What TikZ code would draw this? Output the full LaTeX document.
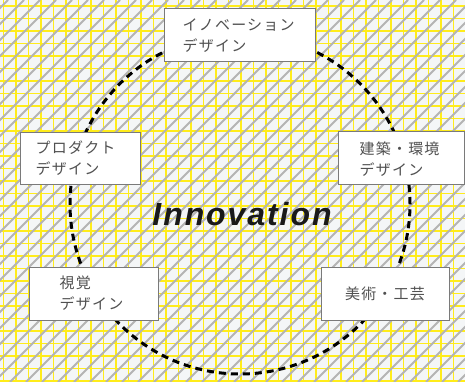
\documentclass[tikz,border=0pt]{standalone}
\usepackage{fontspec}
\setmainfont{Liberation Sans}
\newfontfamily\jp[LetterSpace=8]{Noto Sans CJK JP}
\newfontfamily\inno[LetterSpace=6]{Liberation Sans}
\usetikzlibrary{calc}
\definecolor{bgc}{HTML}{F4F6F7}
\definecolor{yel}{HTML}{FFEC1A}
\definecolor{diag}{HTML}{B4B4B4}
\definecolor{boxline}{HTML}{7A7A7A}
\definecolor{txt}{HTML}{505050}
\tikzset{
  gridline/.style={draw=yel, line width=1.3pt},
  diagline/.style={draw=diag, line width=1.9pt},
  ring/.style={draw=black, line width=3pt, dash pattern=on 7pt off 5pt},
  box/.style={draw=boxline, fill=white, line width=1pt, rectangle, inner sep=0pt},
  lbl/.style={text=txt, font=\jp\fontsize{15}{21}\selectfont, align=left, inner sep=0pt},
}
\begin{document}
\begin{tikzpicture}[x=1pt,y=-1pt]
\useasboundingbox (0,0) rectangle (465,382);
\begin{scope}
\clip (0,0) rectangle (465,382);
\fill[bgc] (0,0) rectangle (465,382);
\foreach \x in {3.5,16,...,465} \draw[gridline] (\x,0) -- (\x,382);
\foreach \y in {6,18.5,...,382} \draw[gridline] (0,\y) -- (465,\y);
\foreach \x in {-390,-374,...,470} \draw[diagline] (\x,382) -- (\x+382,0);
\end{scope}
\coordinate (c) at (240,204);
\draw[ring] (c) circle[radius=170pt];
% boxes
\node[box, minimum width=151pt, minimum height=53pt] (inno) at (239.5,35.5) {};
\node[lbl, anchor=west] at ($(inno.west)+(19,0)$) {イノベーション\\デザイン};
\node[box, minimum width=126pt, minimum height=52pt] (arch) at (401,158) {};
\node[lbl, anchor=west] at ($(arch.west)+(22,1)$) {建築・環境\\デザイン};
\node[box, minimum width=120pt, minimum height=51pt] (prod) at (80,158.5) {};
\node[lbl, anchor=west] at ($(prod.west)+(16,0)$) {プロダクト\\デザイン};
\node[box, minimum width=129pt, minimum height=53pt] (vis) at (93.5,293.5) {};
\node[lbl, anchor=west] at ($(vis.west)+(31,0)$) {視覚\\デザイン};
\node[box, minimum width=128pt, minimum height=53pt] (art) at (385,293.5) {};
\node[lbl] at (art.center) {美術・工芸};
\node[text=black!90, font=\inno\fontsize{32}{32}\selectfont\bfseries\itshape, anchor=base, inner sep=0pt] (title) at (242,225) {Innovation};
\end{tikzpicture}
\end{document}
